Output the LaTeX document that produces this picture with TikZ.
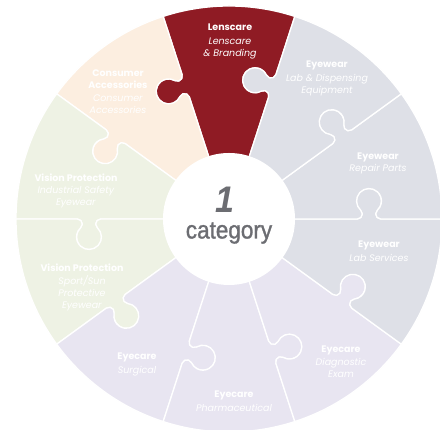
\documentclass[tikz,border=0pt]{standalone}
\usepackage{fontspec}
\newfontfamily\puzzlefont{Poppins}
\newfontfamily\catfont[FakeStretch=0.92]{Liberation Sans}
\newfontfamily\catwordfont[FakeStretch=0.9,FakeBold=1.2]{Liberation Sans}

\definecolor{lensred}{RGB}{143,27,36}
\definecolor{peach}{RGB}{252,238,224}
\definecolor{sage}{RGB}{238,242,228}
\definecolor{lilac}{RGB}{232,229,241}
\definecolor{mist}{RGB}{222,224,231}
\definecolor{catgray}{RGB}{108,109,114}

% ring and knob sizes (pt)
\newcommand{\outerr}{213}
\newcommand{\innerr}{66}
\newcommand{\knobpos}{140}
\newcommand{\knobgap}{11.7}
\newcommand{\filletr}{5}
\newcommand{\headr}{12.5}

\tikzset{
  piece/.style={draw=white, line width=1.3pt, line join=round},
  piecetext/.style={text=white, align=center, font=\puzzlefont\fontsize{9.5}{12}\selectfont},
}

\begin{document}
\begin{tikzpicture}[x=1pt,y=1pt]
  \useasboundingbox (0,0) rectangle (440,430);
  \clip (0,0) rectangle (440,430);
  \coordinate (hub) at (229,211);

  % the ten puzzle pieces
  \begin{scope}[shift={(hub)}]
    \foreach \a/\col in {72/lensred,108/peach,144/sage,180/sage,216/lilac,252/lilac,288/lilac,324/mist,0/mist,36/mist}{
      \filldraw[piece, fill=\col, rotate=\a] (0,0) -- (\knobpos-\knobgap,0)
        arc[start angle=-90, end angle=48, radius=\filletr]
        arc[start angle=228, end angle=-48, radius=\headr]
        arc[start angle=132, end angle=270, radius=\filletr]
        -- (\outerr,0) arc[start angle=0, end angle=36, radius=\outerr]
        -- ([rotate=36]\knobpos+\knobgap,0)
        arc[start angle=306, end angle=168, radius=\filletr]
        arc[start angle=-12, end angle=264, radius=\headr]
        arc[start angle=84, end angle=-54, radius=\filletr]
        -- cycle;
    }
    \fill[white] (0,0) circle (\innerr);
  \end{scope}

  % centre
  \node[text=catgray, font=\catfont\bfseries\itshape\fontsize{37}{37}\selectfont] (num) at (225,230) {1};
  \node[text=catgray, font=\catwordfont\fontsize{25}{25}\selectfont] (category) at (229,197) {category};

  % labels
  \node[piecetext] (lenscare) at (230,389) {\textbf{Lenscare}\\[2pt]\textit{Lenscare}\\\textit{\& Branding}};
  \node[piecetext] (consumer) at (118,338) {\textbf{Consumer}\\\textbf{Accessories}\\[1pt]\textit{Consumer}\\\textit{Accessories}};
  \node[piecetext] (labdisp) at (327,352) {\textbf{Eyewear}\\[2pt]\textit{Lab \& Dispensing}\\\textit{Equipment}};
  \node[piecetext] (repair) at (378,267) {\textbf{Eyewear}\\\textit{Repair Parts}};
  \node[piecetext] (labserv) at (379,179) {\textbf{Eyewear}\\[2pt]\textit{Lab Services}};
  \node[piecetext] (industrial) at (76,239) {\textbf{Vision Protection}\\\textit{Industrial Safety}\\\textit{Eyewear}};
  \node[piecetext] (sport) at (82,143) {\textbf{Vision Protection}\\[1pt]\textit{Sport/Sun}\\\textit{Protective}\\\textit{Eyewear}};
  \node[piecetext] (surgical) at (137,66) {\textbf{Eyecare}\\[2pt]\textit{Surgical}};
  \node[piecetext] (pharma) at (234,29) {\textbf{Eyecare}\\[2pt]\textit{Pharmaceutical}};
  \node[piecetext] (diagnostic) at (341,68) {\textbf{Eyecare}\\[1pt]\textit{Diagnostic}\\\textit{Exam}};
\end{tikzpicture}
\end{document}
